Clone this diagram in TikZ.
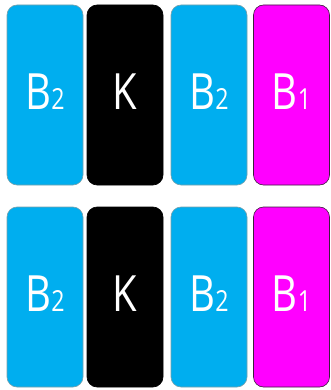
\documentclass[tikz,border=0pt]{standalone}
\usepackage{fontspec}
\setmainfont{Open Sans}
\definecolor{pcyan}{RGB}{0,174,239}
\definecolor{pmagenta}{RGB}{255,0,255}
\definecolor{cyanedge}{RGB}{120,160,170}
\definecolor{magedge}{RGB}{60,30,60}
\usetikzlibrary{positioning}
\tikzset{
  bar/.style={minimum width=76pt, minimum height=180pt, rounded corners=10pt,
              inner sep=0pt, text=white, text depth=7pt,
              font=\fontsize{50}{50}\selectfont, line width=0.6pt},
  cyanbar/.style={bar, fill=pcyan, draw=cyanedge},
  blackbar/.style={bar, fill=black, draw=black},
  magbar/.style={bar, fill=pmagenta, draw=magedge},
}
\newcommand{\sub}[1]{{\fontsize{29}{29}\selectfont #1}}
\begin{document}
\begin{tikzpicture}[x=1pt, y=-1pt]
      \useasboundingbox (0,0) rectangle (330,390);
      % top row
      \node[cyanbar]  (topBa) at (45,95)    {\scalebox{0.8}[1]{B\sub{2}}};
      \node[blackbar] (topK)  at (125,95)   {\scalebox{0.8}[1]{K}};
      \node[cyanbar]  (topBb) at (209,95)   {\scalebox{0.8}[1]{B\sub{2}}};
      \node[magbar]   (topBc) at (291.5,95) {\scalebox{0.8}[1]{B\sub{1}}};
      % bottom row
      \node[cyanbar]  (botBa) at (45,297)    {\scalebox{0.8}[1]{B\sub{2}}};
      \node[blackbar] (botK)  at (125,297)   {\scalebox{0.8}[1]{K}};
      \node[cyanbar]  (botBb) at (209,297)   {\scalebox{0.8}[1]{B\sub{2}}};
      \node[magbar]   (botBc) at (291.5,297) {\scalebox{0.8}[1]{B\sub{1}}};
\end{tikzpicture}
\end{document}
